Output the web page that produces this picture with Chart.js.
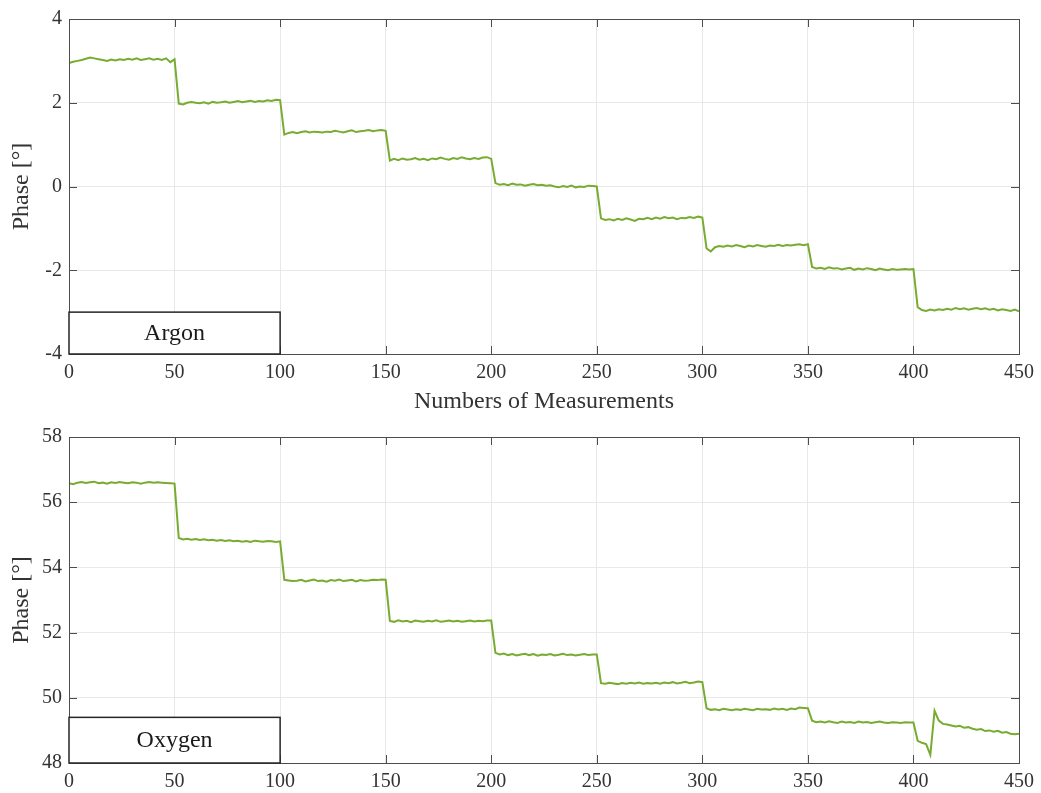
<!DOCTYPE html>
<html>
<head>
<meta charset="utf-8">
<script src="https://cdn.jsdelivr.net/npm/chart.js@4.4.1/dist/chart.umd.min.js"></script>
<style>
  body { margin: 0; background: #fff; }
  .wrap { position: absolute; left: 0; width: 1041px; }
  #argonWrap { top: 0; height: 415px; }
  #oxygenWrap { top: 415px; height: 378px; }
</style>
</head>
<body>
<div class="wrap" id="argonWrap"><canvas id="argonCanvas"></canvas></div>
<div class="wrap" id="oxygenWrap"><canvas id="oxygenCanvas"></canvas></div>
<script>
//--------------------- DONNEES -------------------------
// one value every 2 measurements (0, 2, 4 ... 450)
const sampleStep = 2;

const argonPhase = [
  2.95, 2.98, 3.0, 3.02, 3.05, 3.08, 3.06, 3.04, 3.02, 3.0, 3.03, 3.01, 3.04, 3.02, 3.05, 3.03, 3.06, 3.02, 3.04, 3.06, 3.03, 3.05, 3.02, 3.06, 2.97,
  3.04, 1.98, 1.96, 2.0, 2.02, 2.0, 1.99, 2.01, 1.98, 2.02, 2.0, 2.01, 2.03, 2.0, 2.02, 2.04, 2.01, 2.03, 2.05, 2.02, 2.04, 2.03, 2.06, 2.04, 2.07,
  2.06, 1.24, 1.28, 1.3, 1.27, 1.3, 1.32, 1.29, 1.31, 1.3, 1.29, 1.31, 1.3, 1.33, 1.31, 1.29, 1.32, 1.34, 1.3, 1.32, 1.33, 1.35, 1.32, 1.34, 1.35,
  1.33, 0.62, 0.66, 0.63, 0.67, 0.64, 0.65, 0.68, 0.64, 0.66, 0.63, 0.67, 0.65, 0.69, 0.66, 0.64, 0.68, 0.66, 0.7, 0.67, 0.65, 0.68, 0.66, 0.69, 0.7,
  0.66, 0.08, 0.04, 0.06, 0.03, 0.07, 0.04, 0.05, 0.02, 0.04, 0.06, 0.03, 0.04, 0.02, 0.03, 0.0, -0.02, 0.01, -0.01, 0.02, -0.02, 0.0, -0.01, 0.02, 0.01,
  0.0, -0.76, -0.8, -0.78, -0.81, -0.77, -0.8, -0.76, -0.79, -0.82, -0.77, -0.78, -0.75, -0.78, -0.74, -0.77, -0.73, -0.76, -0.74, -0.78, -0.75, -0.76, -0.73, -0.75, -0.72,
  -0.74, -1.48, -1.55, -1.45, -1.42, -1.44, -1.41, -1.43, -1.4, -1.42, -1.45, -1.41, -1.43, -1.4, -1.42, -1.44, -1.41, -1.42, -1.39, -1.42, -1.4, -1.41, -1.39, -1.38, -1.4,
  -1.38, -1.92, -1.96, -1.94, -1.97, -1.93, -1.96, -1.95, -1.98, -1.96, -1.94, -1.99, -1.96, -1.98, -1.95, -1.97, -2.0, -1.96, -1.98, -2.0, -1.97, -1.99, -1.98, -1.97, -1.98,
  -1.97, -2.88, -2.95, -2.97, -2.94, -2.96, -2.93, -2.95, -2.92, -2.94, -2.9, -2.93, -2.91, -2.94, -2.92, -2.9, -2.93, -2.91, -2.94, -2.92, -2.96, -2.93, -2.95, -2.97, -2.94,
  -2.98
];

const oxygenPhase = [
  56.58, 56.55, 56.6, 56.62, 56.59, 56.61, 56.63, 56.58, 56.6, 56.57, 56.61, 56.59, 56.62, 56.6, 56.58, 56.61, 56.6, 56.57, 56.6, 56.62, 56.6, 56.61, 56.6, 56.59, 56.58,
  56.57, 54.9, 54.86, 54.88, 54.85, 54.87, 54.84, 54.86, 54.83, 54.85, 54.82, 54.84, 54.81, 54.83, 54.8, 54.82, 54.79, 54.81, 54.78, 54.82, 54.8, 54.79, 54.81, 54.8, 54.78,
  54.8, 53.62, 53.6, 53.58, 53.59, 53.62, 53.57, 53.6, 53.63, 53.58, 53.6, 53.56, 53.61, 53.59, 53.63, 53.58, 53.6, 53.62, 53.57, 53.61, 53.59, 53.6, 53.62, 53.61, 53.63,
  53.62, 52.36, 52.33, 52.38, 52.34, 52.36, 52.32, 52.37, 52.35, 52.33, 52.36, 52.34, 52.38, 52.33, 52.35, 52.37, 52.34, 52.36, 52.33, 52.35, 52.37, 52.34, 52.36, 52.35, 52.37,
  52.37, 51.38, 51.33, 51.36, 51.31, 51.34, 51.3, 51.33, 51.35, 51.31, 51.34, 51.29, 51.33, 51.31, 51.34, 51.3, 51.32, 51.35, 51.31, 51.33, 51.3, 51.32, 51.34, 51.31, 51.33,
  51.33, 50.45, 50.43, 50.46, 50.44, 50.42, 50.45, 50.43, 50.46, 50.44, 50.47, 50.43, 50.45, 50.44, 50.46, 50.43, 50.47, 50.45, 50.48, 50.44, 50.46, 50.49, 50.45, 50.47, 50.5,
  50.48, 49.68, 49.63, 49.65, 49.62, 49.66, 49.64, 49.62, 49.65, 49.63, 49.66, 49.64, 49.62, 49.66, 49.64, 49.65, 49.63, 49.67, 49.64, 49.66, 49.63, 49.67, 49.65, 49.7, 49.69,
  49.68, 49.3, 49.25, 49.27, 49.24, 49.28, 49.25, 49.23, 49.27, 49.24, 49.26, 49.23, 49.27, 49.24, 49.26, 49.23, 49.25, 49.27, 49.24, 49.23, 49.25, 49.24, 49.23, 49.25, 49.24,
  49.24, 48.68, 48.62, 48.58, 48.25, 49.6, 49.3, 49.2, 49.18, 49.15, 49.12, 49.14, 49.08, 49.1, 49.05, 49.02, 49.04, 48.98, 49.0, 48.96, 48.99, 48.93, 48.95, 48.9, 48.88,
  48.9
];

// axis ranges and tick spacing
const xRange = [0, 450];
const xStep = 50;
const argonRange = [-4, 4];
const oxygenRange = [48, 58];
const yStep = 2;

// labelled boxes in the lower left corner: [x from, x to, y from, y to]
const argonBox = [0, 100, -4, -3];
const oxygenBox = [0, 100, 48, 49.4];

//--------------------- STYLE -------------------------
const serif = '"Liberation Serif", "DejaVu Serif", serif';
const textColor = '#333333';
const frameColor = '#4d4d4d';
const lineGreen = '#77ac30';

// MATLAB-like frame: box all around, ticks pointing inwards, text box
const matlabFrame = {
  id: 'matlabFrame',
  afterDatasetsDraw(chart, args, opts) {
    const {ctx, chartArea: a, scales: {x, y}} = chart;
    ctx.save();
    ctx.strokeStyle = frameColor;
    ctx.lineWidth = 1;
    ctx.beginPath();
    x.ticks.forEach(t => {
      const px = Math.round(x.getPixelForValue(t.value)) + 0.5;
      ctx.moveTo(px, a.bottom); ctx.lineTo(px, a.bottom - 8);
      ctx.moveTo(px, a.top); ctx.lineTo(px, a.top + 8);
    });
    y.ticks.forEach(t => {
      const py = Math.round(y.getPixelForValue(t.value)) + 0.5;
      ctx.moveTo(a.left, py); ctx.lineTo(a.left + 8, py);
      ctx.moveTo(a.right, py); ctx.lineTo(a.right - 8, py);
    });
    ctx.stroke();
    ctx.strokeRect(Math.round(a.left) + 0.5, Math.round(a.top) + 0.5,
      Math.round(a.right - a.left), Math.round(a.bottom - a.top));

    if (opts.label) {
      const b = opts.box;
      const x0 = x.getPixelForValue(b[0]), x1 = x.getPixelForValue(b[1]);
      const y0 = y.getPixelForValue(b[2]), y1 = y.getPixelForValue(b[3]);
      ctx.fillStyle = '#fff';
      ctx.fillRect(x0, y1, x1 - x0, y0 - y1);
      ctx.strokeStyle = '#262626';
      ctx.lineWidth = 1.5;
      ctx.strokeRect(x0, y1, x1 - x0, y0 - y1);
      ctx.fillStyle = '#1a1a1a';
      ctx.font = '24px ' + serif;
      ctx.textAlign = 'center';
      ctx.textBaseline = 'middle';
      ctx.fillText(opts.label, (x0 + x1) / 2, (y0 + y1) / 2 + 1);
    }
    ctx.restore();
  }
};

function makeConfig(values, yRange, box, label, xTitle, padTop, xHeight) {
  return {
    type: 'line',
    data: {
      datasets: [{
        data: values.map((v, i) => ({x: i * sampleStep, y: v})),
        borderColor: lineGreen,
        borderWidth: 2,
        pointRadius: 0,
        tension: 0,
        fill: false
      }]
    },
    options: {
      responsive: true,
      maintainAspectRatio: false,
      animation: false,
      events: [],
      layout: { padding: { top: padTop, right: 21, left: 0, bottom: 0 } },
      plugins: {
        legend: { display: false },
        tooltip: { enabled: false },
        matlabFrame: { box: box, label: label }
      },
      scales: {
        x: {
          type: 'linear',
          min: xRange[0],
          max: xRange[1],
          grid: { color: '#e8e8e8', drawTicks: false },
          border: { display: false },
          ticks: {
            stepSize: xStep,
            padding: 7,
            color: textColor,
            font: { family: serif, size: 20 },
            maxRotation: 0
          },
          title: {
            display: !!xTitle,
            text: xTitle || '',
            color: textColor,
            font: { family: serif, size: 24, lineHeight: 1 },
            padding: { top: 0, bottom: 1 }
          },
          afterFit: s => { s.height = xHeight; }
        },
        y: {
          min: yRange[0],
          max: yRange[1],
          grid: { color: '#e8e8e8', drawTicks: false },
          border: { display: false },
          ticks: {
            stepSize: yStep,
            padding: 7,
            color: textColor,
            font: { family: serif, size: 20 },
            callback: v => String(v)
          },
          title: {
            display: true,
            text: 'Phase [°]',
            color: textColor,
            font: { family: serif, size: 24, lineHeight: 1 },
            padding: { top: 10, bottom: 0 }
          },
          afterFit: s => { s.width = 69; }
        }
      }
    },
    plugins: [matlabFrame]
  };
}

//--------------------- RENDU -------------------------
const argonChart = new Chart(
  document.getElementById('argonCanvas').getContext('2d'),
  makeConfig(argonPhase, argonRange, argonBox, 'Argon', 'Numbers of Measurements', 17, 61)
);

const oxygenChart = new Chart(
  document.getElementById('oxygenCanvas').getContext('2d'),
  makeConfig(oxygenPhase, oxygenRange, oxygenBox, 'Oxygen', null, 22, 30)
);
</script>
</body>
</html>
